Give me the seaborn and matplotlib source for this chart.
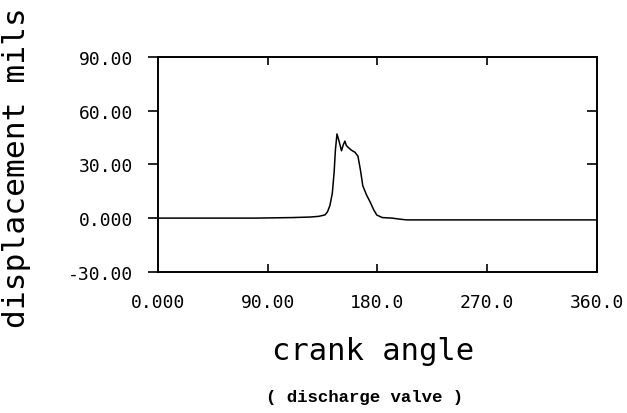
import seaborn as sns
import matplotlib.pyplot as plt
import pandas as pd
import numpy as np

# crank angle (deg) and displacement (mils)
angle = [0, 40, 80, 110, 125, 132, 137, 139, 141, 143, 144.5, 145.5, 146.8, 148.5,
         150.5, 152, 153.3, 154.5, 156, 158.5, 161.5, 164, 166, 168, 171, 174, 177,
         179.5, 184, 192, 198.5, 204, 240, 300, 360]
displacement = [0, 0, 0, 0.3, 0.6, 1.0, 1.8, 3.5, 7, 14, 26, 38, 47, 43,
                37.6, 41, 43, 40.5, 39.5, 38, 36.8, 34.6, 27, 18, 13, 9, 4.5,
                1.7, 0.3, 0, -0.6, -1, -1, -1, -1]

yticks = [-30, 0, 30, 60, 90]
ytick_labels = ['-30.00', '0.000', '30.00', '60.00', '90.00']
xticks = [0, 90, 180, 270, 360]
xtick_labels = ['0.000', '90.00', '180.0', '270.0', '360.0']

sns.set_style('white')
plt.rcParams['font.family'] = ['DejaVu Sans Mono', 'DejaVu Sans']
plt.rcParams['text.color'] = 'black'
plt.rcParams['axes.labelcolor'] = 'black'

df = pd.DataFrame({'angle': angle, 'displacement': displacement})

fig = plt.figure(figsize=(6.27, 4.14), dpi=100)
ax = fig.add_axes([0.252, 0.341, 0.700, 0.519])
sns.lineplot(data=df, x='angle', y='displacement', ax=ax, color='black',
             linewidth=1.1, estimator=None, sort=False)

ax.set_xlim(0, 360)
ax.set_ylim(-30, 90)
for s in ax.spines.values():
    s.set_visible(True)
    s.set_color('black')
    s.set_linewidth(1.4)

ax.set_xticks(xticks)
ax.set_xticklabels(xtick_labels, fontsize=13)
ax.set_xticks([0, 360], minor=True)
ax.set_yticks(yticks)
ax.set_yticklabels(ytick_labels, fontsize=13)
ax.tick_params(axis='x', which='major', direction='in', length=6, width=1.2,
               top=True, bottom=True, pad=15, colors='black')
ax.tick_params(axis='x', which='minor', direction='out', length=7, width=1.2,
               bottom=True, top=False, colors='black')
ax.tick_params(axis='y', which='major', direction='out', length=7, width=1.2,
               left=True, right=False, pad=11, colors='black')

ax2 = ax.twinx()
ax2.set_ylim(-30, 90)
ax2.set_yticks([30, 60])
ax2.tick_params(axis='y', direction='in', length=7, width=1.2, labelright=False,
                colors='black')
for s in ax2.spines.values():
    s.set_visible(False)

ax.set_xlabel('crank angle', fontsize=22, va='center')
ax.xaxis.set_label_coords(0.49, -0.367)
ax.set_ylabel('displacement mils', fontsize=22.5, va='center')
ax.yaxis.set_label_coords(-0.322, 0.49)

fig.text(0.582, 0.041, '( discharge valve )', family='Liberation Mono',
         fontweight='bold', fontsize=12.5, ha='center', va='center')

fig.savefig('out.png', dpi=100, facecolor='white')
